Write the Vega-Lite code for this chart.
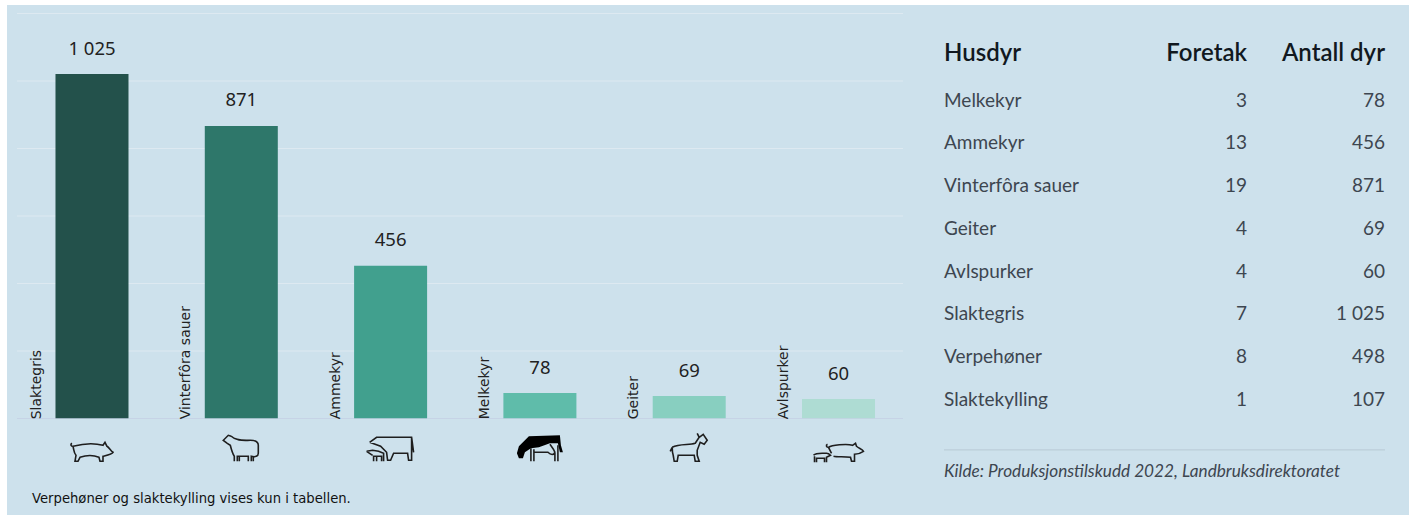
{"$schema":"https://vega.github.io/schema/vega-lite/v6.json","background":"#ffffff","padding":{"left":7,"top":5,"right":0,"bottom":0},"config":{"view":{"fill":"#cde1ec","stroke":null}},"datasets":{"dyr":[{"dyr":"Slaktegris","antall":1025,"etikett":"1 025"},{"dyr":"Vinterfôra sauer","antall":871,"etikett":"871"},{"dyr":"Ammekyr","antall":456,"etikett":"456"},{"dyr":"Melkekyr","antall":78,"etikett":"78"},{"dyr":"Geiter","antall":69,"etikett":"69"},{"dyr":"Avlspurker","antall":60,"etikett":"60"}],"rutenett":[{"v":0},{"v":200},{"v":400},{"v":600},{"v":800},{"v":1000},{"v":1200}],"tabell":[{"rad":"Husdyr","kolonne":"Husdyr","tekst":"Husdyr"},{"rad":"Husdyr","kolonne":"Foretak","tekst":"Foretak"},{"rad":"Husdyr","kolonne":"Antall dyr","tekst":"Antall dyr"},{"rad":"Melkekyr","kolonne":"Husdyr","tekst":"Melkekyr"},{"rad":"Melkekyr","kolonne":"Foretak","tekst":"3"},{"rad":"Melkekyr","kolonne":"Antall dyr","tekst":"78"},{"rad":"Ammekyr","kolonne":"Husdyr","tekst":"Ammekyr"},{"rad":"Ammekyr","kolonne":"Foretak","tekst":"13"},{"rad":"Ammekyr","kolonne":"Antall dyr","tekst":"456"},{"rad":"Vinterfôra sauer","kolonne":"Husdyr","tekst":"Vinterfôra sauer"},{"rad":"Vinterfôra sauer","kolonne":"Foretak","tekst":"19"},{"rad":"Vinterfôra sauer","kolonne":"Antall dyr","tekst":"871"},{"rad":"Geiter","kolonne":"Husdyr","tekst":"Geiter"},{"rad":"Geiter","kolonne":"Foretak","tekst":"4"},{"rad":"Geiter","kolonne":"Antall dyr","tekst":"69"},{"rad":"Avlspurker","kolonne":"Husdyr","tekst":"Avlspurker"},{"rad":"Avlspurker","kolonne":"Foretak","tekst":"4"},{"rad":"Avlspurker","kolonne":"Antall dyr","tekst":"60"},{"rad":"Slaktegris","kolonne":"Husdyr","tekst":"Slaktegris"},{"rad":"Slaktegris","kolonne":"Foretak","tekst":"7"},{"rad":"Slaktegris","kolonne":"Antall dyr","tekst":"1 025"},{"rad":"Verpehøner","kolonne":"Husdyr","tekst":"Verpehøner"},{"rad":"Verpehøner","kolonne":"Foretak","tekst":"8"},{"rad":"Verpehøner","kolonne":"Antall dyr","tekst":"498"},{"rad":"Slaktekylling","kolonne":"Husdyr","tekst":"Slaktekylling"},{"rad":"Slaktekylling","kolonne":"Foretak","tekst":"1"},{"rad":"Slaktekylling","kolonne":"Antall dyr","tekst":"107"}]},"width":1402,"height":510,"resolve":{"scale":{"x":"independent","y":"independent"}},"layer":[{"data":{"name":"rutenett"},"mark":{"type":"rule","strokeWidth":1},"encoding":{"x":{"datum":0,"type":"quantitative","scale":{"domain":[0,1],"range":[10,896]},"axis":null},"x2":{"datum":1},"y":{"field":"v","type":"quantitative","scale":{"domain":[0,1200],"range":[413.5,8.5],"nice":false},"axis":null},"color":{"condition":{"test":"datum.v===0","value":"#c6d3e6"},"value":"#dde9f1"}}},{"data":{"name":"dyr"},"encoding":{"x":{"field":"dyr","type":"nominal","sort":null,"axis":null,"scale":{"type":"band","domain":["Slaktegris","Vinterfôra sauer","Ammekyr","Melkekyr","Geiter","Avlspurker"],"range":[10,896],"paddingInner":0.511,"paddingOuter":0.2226,"align":0.579}}},"layer":[{"mark":{"type":"bar"},"encoding":{"y":{"field":"antall","type":"quantitative","axis":null,"scale":{"domain":[0,1206.4],"range":[414.3,8],"nice":false}},"y2":{"datum":3},"color":{"field":"dyr","type":"nominal","legend":null,"scale":{"domain":["Slaktegris","Vinterfôra sauer","Ammekyr","Melkekyr","Geiter","Avlspurker"],"range":["#23514b","#2e776a","#41a08e","#5fbcaa","#88cfc0","#aedcd3"]}}}},{"mark":{"type":"text","font":"Noto Sans","fontSize":18.5,"color":"#222222","dy":-19.5,"baseline":"alphabetic"},"encoding":{"y":{"field":"antall","type":"quantitative"},"text":{"field":"etikett"}}},{"mark":{"type":"text","font":"DejaVu Sans","fontSize":14,"color":"#222222","angle":270,"align":"left","baseline":"alphabetic","xOffset":-51,"yOffset":0},"encoding":{"y":{"datum":0,"type":"quantitative"},"text":{"field":"dyr"}}},{"mark":{"type":"point","filled":false,"fill":"transparent","stroke":"#1e1e1e","strokeWidth":1.6,"size":4,"opacity":1,"yOffset":30},"encoding":{"y":{"datum":0,"type":"quantitative"},"shape":{"field":"dyr","type":"nominal","legend":null,"scale":{"domain":["Slaktegris","Vinterfôra sauer","Ammekyr","Melkekyr","Geiter","Avlspurker"],"range":["M-20,-6 C-22,-5 -21,-3 -19,-3 C-18,1 -18,4 -16,6 L-17,12 L-14,12 L-12,8 C-6,6 2,6 7,8 L8,12 L11,12 L11,7 C15,6 20,5 21,3 C19,2 17,-2 15,-3 L13,-7 L11,-4 C4,-6 -8,-6 -19,-3","M-10,-13 L-13,-14 L-18,-9 L-14,-6 L-11,-4 C-10,0 -9,4 -7,7 L-7,12 M-4,12 L-4,7 L7,7 L7,12 M10,12 L10,7 C14,8 17,7 17,4 L17,-4 C17,-8 13,-9 9,-9 C3,-9 -5,-8 -10,-13 M-2,12 L-2,7 M12,12 L12,7","M-21,-7 L-14,-12 L21,-12 L23,3 M21,-12 L21,11 L18,11 L17,4 L3,4 L0,11 L-3,11 L-4,3 L-10,-3 L-21,-7 M-24,2 L-18,1 L-12,2 L-7,4 L-7,12 M-9,12 L-9,7 L-17,7 L-17,12 M-14,12 L-14,7 M-18,6 L-24,2","M-9,-1 L-9,12 M-6,0 L-6,12 M-6,3 L8,3 C11,6 14,6 15,3 L15,12 M18,-4 L18,12 M10,-5 C13,-1 14,0 15,3","M-17,-2 C-10,-6 0,-4 6,-6 L10,-12 L8,-16 M10,-12 L14,-15 L18,-9 L15,-5 L11,-7 L8,1 L8,6 L10,12 L6,12 L5,6 L-11,6 L-12,12 L-15,12 L-16,6 C-17,3 -17,0 -17,-2 M-17,-2 L-19,2","M-11,-5 C-13,-4 -12,-2 -10,-2 C-7,-4 8,-6 14,-4 L17,-6 L18,-3 C20,-1 24,0 25,2 C22,4 19,5 16,5 L16,12 L13,12 L12,8 C6,7 -1,8 -5,7 M-10,-2 C-9,0 -8,2 -7,4 M-25,6 C-22,3 -16,4 -12,4 C-10,4 -9,5 -8,6 L-12,8 L-12,13 M-14,13 L-14,9 L-22,9 L-22,13 M-24,13 L-24,7"]}}}},{"transform":[{"filter":"datum.dyr==='Melkekyr'"}],"mark":{"type":"point","filled":true,"fill":"#000000","stroke":null,"size":4,"opacity":1,"yOffset":30,"shape":"M-23,4 L-21,-3 L-11,-13 L20,-14 L21,-4 L23,3 L20,3 L18,-6 L10,-6 L-1,-2 L-9,-1 L-15,3 L-17,9 L-21,9 Z"},"encoding":{"y":{"datum":0,"type":"quantitative"}}},{"transform":[{"filter":"datum.dyr==='Slaktegris'"}],"mark":{"type":"text","font":"DejaVu Sans","fontSize":13.2,"color":"#111111","align":"left","baseline":"alphabetic","xOffset":-60,"yOffset":84},"encoding":{"y":{"datum":0,"type":"quantitative"},"text":{"value":"Verpehøner og slaktekylling vises kun i tabellen."}}}]},{"data":{"name":"tabell"},"resolve":{"scale":{"x":"independent"}},"encoding":{"y":{"field":"rad","type":"nominal","axis":null,"scale":{"type":"point","padding":0,"domain":["Husdyr","Melkekyr","Ammekyr","Vinterfôra sauer","Geiter","Avlspurker","Slaktegris","Verpehøner","Slaktekylling","Kilde"],"range":[59,443.3]}}},"layer":[{"transform":[{"filter":"datum.rad==='Husdyr'&&datum.kolonne==='Husdyr'"}],"mark":{"type":"text","font":"Lato","fontSize":24,"fontWeight":600,"color":"#111820","align":"left","baseline":"alphabetic","dy":-3},"encoding":{"x":{"field":"kolonne","type":"nominal","axis":null,"scale":{"type":"point","padding":0,"domain":["Husdyr"],"range":[937,937]}},"text":{"field":"tekst"}}},{"transform":[{"filter":"datum.rad==='Husdyr'&&datum.kolonne!=='Husdyr'"}],"mark":{"type":"text","font":"Lato","fontSize":24,"fontWeight":600,"color":"#111820","align":"right","baseline":"alphabetic","dy":-3},"encoding":{"x":{"field":"kolonne","type":"nominal","axis":null,"scale":{"type":"point","padding":0,"domain":["Foretak","Antall dyr"],"range":[1240,1378]}},"text":{"field":"tekst"}}},{"transform":[{"filter":"datum.rad!=='Husdyr'&&datum.kolonne==='Husdyr'"}],"mark":{"type":"text","font":"Lato","fontSize":19,"color":"#3d4650","align":"left","baseline":"alphabetic"},"encoding":{"x":{"field":"kolonne","type":"nominal","axis":null,"scale":{"type":"point","padding":0,"domain":["Husdyr"],"range":[937,937]}},"text":{"field":"tekst"}}},{"transform":[{"filter":"datum.rad!=='Husdyr'&&datum.kolonne!=='Husdyr'"}],"mark":{"type":"text","font":"Lato","fontSize":19,"color":"#3d4650","align":"right","baseline":"alphabetic"},"encoding":{"x":{"field":"kolonne","type":"nominal","axis":null,"scale":{"type":"point","padding":0,"domain":["Foretak","Antall dyr"],"range":[1240,1378]}},"text":{"field":"tekst"}}},{"data":{"values":[{"rad":"Kilde"}]},"mark":{"type":"rule","stroke":"#b9c9d4","strokeWidth":1,"yOffset":1.6},"encoding":{"x":{"datum":0,"type":"quantitative","axis":null,"scale":{"domain":[0,1],"range":[937,1378]}},"x2":{"datum":1}}},{"data":{"values":[{"rad":"Kilde","kolonne":"Husdyr","tekst":"Kilde: Produksjonstilskudd 2022, Landbruksdirektoratet"}]},"mark":{"type":"text","font":"Lato","fontSize":17.2,"fontStyle":"italic","color":"#3d4650","align":"left","baseline":"alphabetic","dy":28.4},"encoding":{"x":{"field":"kolonne","type":"nominal","axis":null,"scale":{"type":"point","padding":0,"domain":["Husdyr"],"range":[937,937]}},"text":{"field":"tekst"}}}]}]}
